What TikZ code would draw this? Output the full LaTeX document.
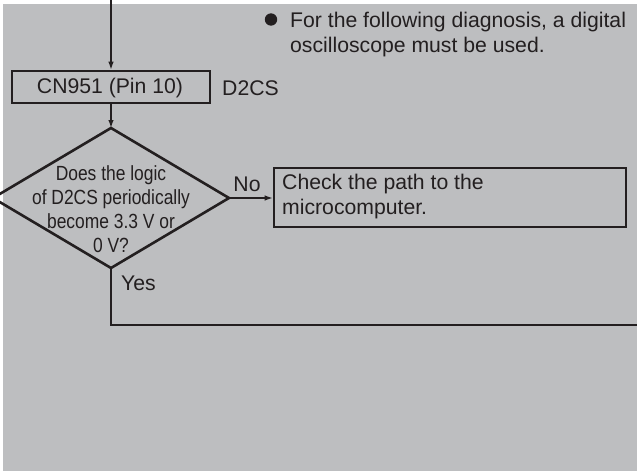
\documentclass[tikz,border=0pt]{standalone}
\usepackage{fontspec}
\setmainfont{Liberation Sans}
\newfontfamily\narrowfont[FakeStretch=0.85]{Liberation Sans}
\usetikzlibrary{arrows.meta,shapes.geometric}
\definecolor{bggray}{HTML}{BDBEC0}
\definecolor{ink}{HTML}{231F20}
\tikzset{
  boxstyle/.style={draw=ink, line width=2.6pt, inner sep=0pt},
  txt/.style={text=ink, font=\fontsize{21.2}{24.5}\selectfont, inner sep=0pt},
  conn/.style={draw=ink, line width=1.3pt, -{Latex[length=8pt,width=5.5pt]}},
  plainline/.style={draw=ink, line width=1.3pt},
}
\begin{document}
\begin{tikzpicture}[x=1pt,y=-1pt]
\useasboundingbox (0,0) rectangle (637,471);
\clip (0,0) rectangle (637,471);
\fill[bggray] (3,4) rectangle (637,471);
% start coordinate
\coordinate (top) at (111,-2);
% CN951 box
\node[boxstyle, minimum width=198pt, minimum height=32pt] (cn) at (111,87) {};
\node[txt] (cntext) at (110,88) {CN951 (Pin 10)};
\node[txt, anchor=west] (d2cs) at (222,88) {D2CS};
% diamond
\draw[ink, line width=2.6pt, line join=miter] (111,128) -- (229,198) -- (111,268) -- (-7,198) -- cycle;
\coordinate (dtop) at (111,128);
\coordinate (dright) at (229,198);
\coordinate (dbottom) at (111,268);
\node[txt, align=center, font=\narrowfont\fontsize{20.5}{24}\selectfont] (q) at (111,209) {Does the logic\\of D2CS periodically\\become 3.3 V or\\0 V?};
% check box
\node[boxstyle, minimum width=352pt, minimum height=59pt] (chk) at (450,197.5) {};
\node[txt, anchor=north west, align=left] (chktext) at (282,174) {Check the path to the\\microcomputer.};
% bullet note
\node[txt, anchor=north west, align=left] (note) at (290,12) {For the following diagnosis, a digital\\oscilloscope must be used.};
\fill[ink] (271,19.5) circle (6.2pt);
\node[txt] (no) at (247,184) {No};
\node[txt, anchor=west] (yes) at (121,283) {Yes};
% connectors
\draw[conn] (top) -- (cn.north);
\draw[conn] (cn.south) -- (dtop);
\draw[conn] (dright) -- (chk.west |- dright);
\coordinate (yturn) at (111,325);
\coordinate (yend) at (640,325);
\draw[plainline] (dbottom) -- (yturn) -- (yend);
\end{tikzpicture}
\end{document}
